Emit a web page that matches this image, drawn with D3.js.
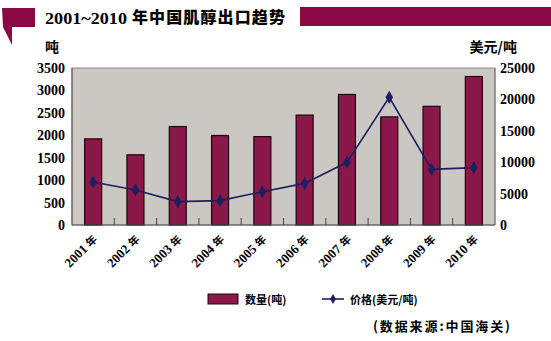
<!DOCTYPE html>
<html><head><meta charset="utf-8">
<script src="https://cdn.jsdelivr.net/npm/d3@7"></script>
<style>body{margin:0;background:#fff}svg{display:block}</style>
</head><body>
<svg id="c" width="551" height="341"></svg>
<script>
const years = ["2001","2002","2003","2004","2005","2006","2007","2008","2009","2010"];
const quantity = [1920,1565,2195,1995,1970,2450,2910,2410,2645,3310];
const price = [6850,5570,3720,3880,5300,6630,9980,20330,8860,9130];
const leftTicks = [0,500,1000,1500,2000,2500,3000,3500];
const rightTicks = [0,5000,10000,15000,20000,25000];

const svg = d3.select("#c");
const M = {l:72, r:495, t:68, b:225};
const serif = "'Liberation Serif','Times New Roman',serif";
const cjk = "'Noto Sans CJK SC',sans-serif";
const maroon = "#8a1848";
const navy = "#1e1e60";

// banner
svg.append("path").attr("d","M2,8 L35,8 L35,27 L12,27 L12,45 L3,27 Z").attr("fill","#8b0a44");
svg.append("rect").attr("x",300).attr("y",7).attr("width",251).attr("height",19).attr("fill","#8b0a44");
svg.append("text").attr("x",45).attr("y",24).attr("font-family",serif).attr("font-weight","bold")
  .attr("font-size",17).attr("textLength",82).attr("lengthAdjust","spacingAndGlyphs").text("2001~2010");
svg.append("text").attr("x",132).attr("y",23).attr("font-family",cjk).attr("font-weight","900")
  .attr("font-size",16).attr("textLength",153).attr("lengthAdjust","spacing").text("年中国肌醇出口趋势");

// unit labels
svg.append("text").attr("x",45).attr("y",52).attr("font-family",cjk).attr("font-weight","bold").attr("font-size",14).text("吨");
svg.append("text").attr("x",517).attr("y",52).attr("text-anchor","end").attr("font-family",cjk).attr("font-weight","bold").attr("font-size",14).text("美元/吨");

const x = d3.scaleBand().domain(years).range([M.l,M.r]);
const yL = d3.scaleLinear().domain([0,3500]).range([M.b,M.t]);
const yR = d3.scaleLinear().domain([0,25000]).range([M.b,M.t]);

// plot area
svg.append("rect").attr("x",M.l).attr("y",M.t).attr("width",M.r-M.l).attr("height",M.b-M.t)
  .attr("fill","#cbc7c3").attr("stroke","#8a8a8a").attr("stroke-width",1);

// category boundary ticks
svg.append("g").selectAll("line").data(years.slice(1)).join("line")
  .attr("x1",d=>x(d)).attr("x2",d=>x(d)).attr("y1",M.b).attr("y2",M.b-7)
  .attr("stroke","#444").attr("stroke-width",1);

// bars
const bw = 17;
svg.append("g").selectAll("rect").data(years).join("rect")
  .attr("x",(d,i)=>x(d)+x.bandwidth()/2-bw/2).attr("width",bw)
  .attr("y",(d,i)=>yL(quantity[i])).attr("height",(d,i)=>M.b-yL(quantity[i]))
  .attr("fill",maroon).attr("stroke","#1a0610").attr("stroke-width",1.2);

// axes lines
svg.append("line").attr("x1",M.l).attr("x2",M.l).attr("y1",M.t).attr("y2",M.b).attr("stroke","#555");
svg.append("line").attr("x1",M.l).attr("x2",M.r).attr("y1",M.b).attr("y2",M.b).attr("stroke","#555");
svg.append("line").attr("x1",M.r).attr("x2",M.r).attr("y1",M.t).attr("y2",M.b).attr("stroke","#777");

// left axis labels
const gl = svg.append("g").attr("transform",`translate(${M.l},0)`)
  .call(d3.axisLeft(yL).tickValues(leftTicks).tickSize(0).tickPadding(7).tickFormat(d3.format("d")));
gl.select(".domain").remove();
gl.selectAll("text").attr("font-family",serif).attr("font-weight","bold").attr("font-size",14).attr("fill","#000");

const gr = svg.append("g").attr("transform",`translate(${M.r},0)`)
  .call(d3.axisRight(yR).tickValues(rightTicks).tickSize(0).tickPadding(5).tickFormat(d3.format("d")));
gr.select(".domain").remove();
gr.selectAll("text").attr("font-family",serif).attr("font-weight","bold").attr("font-size",14).attr("fill","#000");

// x labels
const xl = svg.append("g").selectAll("text").data(years).join("text")
  .attr("transform",d=>`translate(${x(d)+x.bandwidth()/2+5},${M.b+15}) rotate(-45)`)
  .attr("text-anchor","end").attr("font-weight","bold");
xl.append("tspan").attr("font-family",serif).attr("font-size",13).text(d=>d);
xl.append("tspan").attr("font-family",cjk).attr("font-size",11).attr("dx",3).text("年");

// line
const line = d3.line().x((d,i)=>x(years[i])+x.bandwidth()/2).y(d=>yR(d));
svg.append("path").attr("d",line(price)).attr("fill","none").attr("stroke",navy).attr("stroke-width",1.6);
const diamond = d3.symbol().type(d3.symbolDiamond).size(50);
svg.append("g").selectAll("path").data(price).join("path")
  .attr("d",diamond).attr("transform",(d,i)=>`translate(${x(years[i])+x.bandwidth()/2},${yR(d)})`)
  .attr("fill",navy);

// legend
svg.append("rect").attr("x",208).attr("y",294).attr("width",30).attr("height",10).attr("fill",maroon).attr("stroke","#1a0610");
svg.append("text").attr("x",245).attr("y",304).attr("font-family",cjk).attr("font-weight","bold").attr("font-size",11).text("数量(吨)");
svg.append("line").attr("x1",322).attr("x2",344).attr("y1",299).attr("y2",299).attr("stroke",navy).attr("stroke-width",1.6);
svg.append("path").attr("d",d3.symbol().type(d3.symbolDiamond).size(30)).attr("transform","translate(333,299)").attr("fill",navy);
svg.append("text").attr("x",350).attr("y",304).attr("font-family",cjk).attr("font-weight","bold").attr("font-size",11).text("价格(美元/吨)");

// source
svg.append("text").attr("x",373).attr("y",331).attr("font-family",cjk).attr("font-weight","bold").attr("font-size",13)
  .attr("textLength",137).attr("lengthAdjust","spacing").text("(数据来源:中国海关)");
</script>
</body></html>
